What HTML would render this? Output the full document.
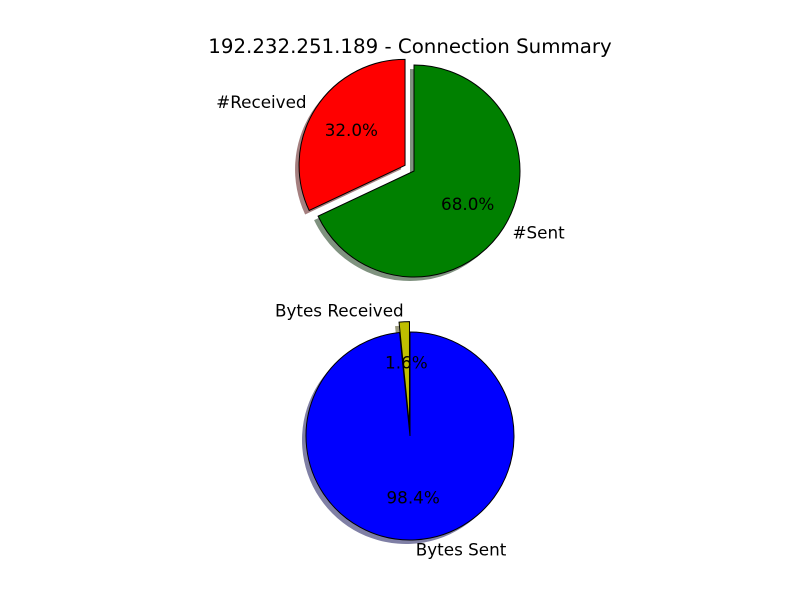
<!DOCTYPE html>
<html><head><meta charset="utf-8"><style>
body{margin:0;background:#fff}
svg text{font-family:"DejaVu Sans","Liberation Sans",sans-serif;font-size:16.8px;fill:#000}
</style></head><body>
<svg id="chart" width="800" height="600" viewBox="0 0 800 600">
<rect width="800" height="600" fill="#fff"/>
<text x="410" y="53" text-anchor="middle" style="font-size:19.8px">192.232.251.189 - Connection Summary</text>
</svg>
<script>
const countLabels = ["#Received", "#Sent"];
const countValues = [32.0, 68.0];
const countColors = ["#ff0000", "#008000"];
const countExplode = [0.1, 0];
const bytesLabels = ["Bytes Received", "Bytes Sent"];
const bytesValues = [1.6, 98.4];
const bytesColors = ["#bfbf00", "#0000ff"];
const bytesExplode = [0.1, 0];

const svg = document.getElementById('chart');
const NS = 'http://www.w3.org/2000/svg';
function mk(tag, attrs){const e=document.createElementNS(NS,tag);for(const k in attrs)e.setAttribute(k,attrs[k]);svg.appendChild(e);return e;}
function shade(c){const n=parseInt(c.slice(1),16);const r=(n>>16)&255,g=(n>>8)&255,b=n&255;return `rgb(${r*0.3|0},${g*0.3|0},${b*0.3|0})`;}
function drawPie(name, cx, cy, r, labels, values, colors, explode){
  const total = values.reduce((a,b)=>a+b,0);
  const wedges=[];
  let a = 90;
  values.forEach((v,i)=>{
    const a2 = a + 360*v/total;
    const mid=(a+a2)/2*Math.PI/180;
    const ox=explode[i]*r*Math.cos(mid), oy=-explode[i]*r*Math.sin(mid);
    const x=cx+ox,y=cy+oy;
    const p1=[x+r*Math.cos(a*Math.PI/180), y-r*Math.sin(a*Math.PI/180)];
    const p2=[x+r*Math.cos(a2*Math.PI/180), y-r*Math.sin(a2*Math.PI/180)];
    const large=(a2-a)>180?1:0;
    const d=`M${x},${y} L${p1[0]},${p1[1]} A${r},${r} 0 ${large} 0 ${p2[0]},${p2[1]} Z`;
    wedges.push({d,x,y,mid,i});
    a=a2;
  });
  wedges.forEach(w=>{
    const s=mk('path',{d:w.d,fill:shade(colors[w.i]),'fill-opacity':0.5,transform:'translate(-4,4)'});
    
    
  });
  wedges.forEach(w=>{
    const p=mk('path',{d:w.d,fill:colors[w.i],stroke:'#000','stroke-width':1});
    
    
  });
  wedges.forEach(w=>{
    const lx=w.x+1.1*r*Math.cos(w.mid), ly=w.y-1.1*r*Math.sin(w.mid);
    const t=mk('text',{x:lx,y:ly+5,'text-anchor':Math.cos(w.mid)>=0?'start':'end'});
    t.textContent=labels[w.i];
    
    
    const px=w.x+0.6*r*Math.cos(w.mid), py=w.y-0.6*r*Math.sin(w.mid);
    const q=mk('text',{x:px,y:py+5,'text-anchor':'middle'});
    q.textContent=(values[w.i]/total*100).toFixed(1)+'%';
    
    
  });
}
drawPie('count-pie', 414, 171, 106, countLabels, countValues, countColors, countExplode);
drawPie('bytes-pie', 410, 436, 104, bytesLabels, bytesValues, bytesColors, bytesExplode);
</script>
</body></html>
